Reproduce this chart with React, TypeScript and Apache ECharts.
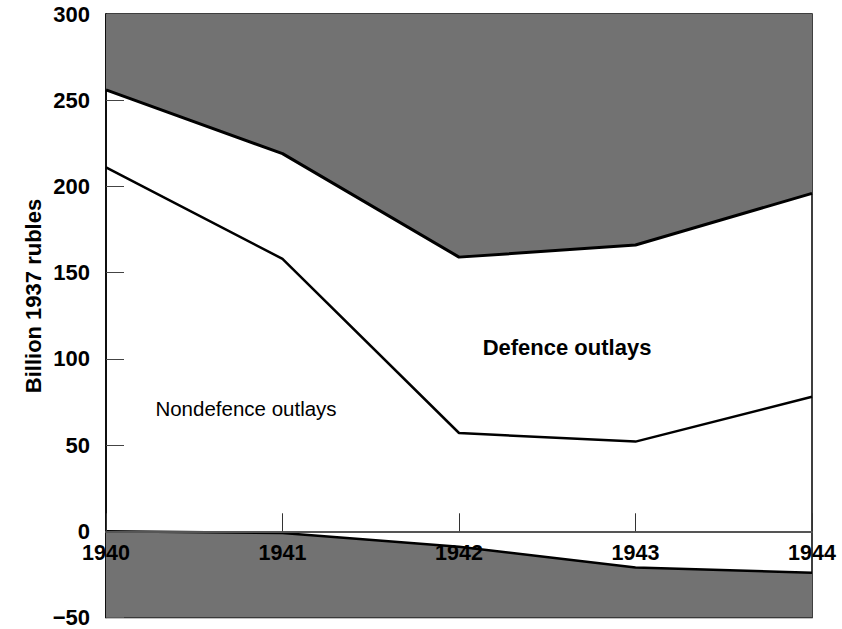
import React, { useEffect, useRef } from "react";
import * as echarts from "echarts";

const years = [1940, 1941, 1942, 1943, 1944];
const totalOutlays = [256, 219, 159, 166, 196];
const nondefenceOutlays = [211, 158, 57, 52, 78];
const negativeItems = [0, -1, -9, -21, -24];
const yTicks = { min: -50, max: 300, interval: 50 };

const FONT = "'Liberation Sans', Arial, sans-serif";
const SHADE = "#727272";

const GRID_TOP = 14;
const GRID_BOTTOM = 11.5;
const CHART_H = 629;

export default function App() {
  const ref = useRef<HTMLDivElement>(null);
  useEffect(() => {
    if (!ref.current) return;
    const chart = echarts.init(ref.current, null, { renderer: "svg" });
    const pairs = (vals: number[]) => years.map((y, i) => [y, vals[i]]);
    const plotH = CHART_H - GRID_TOP - GRID_BOTTOM;
    const zeroFromBottom = (plotH * (0 - yTicks.min)) / (yTicks.max - yTicks.min);
    chart.setOption({
      animation: false,
      backgroundColor: "#ffffff",
      grid: {
        left: 106,
        right: 30,
        top: GRID_TOP,
        bottom: GRID_BOTTOM,
        outerBoundsMode: "none",
        containLabel: false,
        show: true,
        borderColor: "#000",
        borderWidth: 1.5,
        backgroundColor: "transparent",
      },
      xAxis: {
        type: "value",
        position: "bottom",
        offset: -zeroFromBottom,
        min: years[0],
        max: years[years.length - 1],
        interval: 1,
        axisLine: { onZero: false, lineStyle: { color: "#555", width: 2 } },
        axisTick: { inside: true, length: 18, lineStyle: { color: "#333", width: 1 } },
        axisLabel: {
          formatter: (v: number) => String(v),
          color: "#000",
          fontFamily: FONT,
          fontWeight: "bold",
          fontSize: 21.5,
          lineHeight: 18,
          margin: 13,
          showMinLabel: true,
          showMaxLabel: true,
        },
        splitLine: { show: false },
        z: 5,
      },
      yAxis: {
        type: "value",
        min: yTicks.min,
        max: yTicks.max,
        interval: yTicks.interval,
        axisLine: { show: true, onZero: false, lineStyle: { color: "#000", width: 1.5 } },
        axisTick: { inside: true, length: 18, lineStyle: { color: "#444", width: 1 } },
        axisLabel: {
          formatter: (v: number) => String(v).replace("-", "\u2212"),
          color: "#000",
          fontFamily: FONT,
          fontWeight: "bold",
          fontSize: 22,
          lineHeight: 16,
          margin: 16,
          showMinLabel: true,
          showMaxLabel: true,
        },
        splitLine: { show: false },
      },
      graphic: [
        {
          type: "text",
          x: 33,
          y: 296,
          rotation: Math.PI / 2,
          style: {
            text: "Billion 1937 rubles",
            fill: "#000",
            font: `bold 22px ${FONT}`,
            align: "center",
            verticalAlign: "middle",
          },
        },
        {
          type: "text",
          x: 567,
          y: 347,
          style: {
            text: "Defence outlays",
            fill: "#000",
            font: `bold 22px ${FONT}`,
            align: "center",
            verticalAlign: "middle",
          },
        },
        {
          type: "text",
          x: 246,
          y: 408,
          style: {
            text: "Nondefence outlays",
            fill: "#000",
            font: `20.5px ${FONT}`,
            align: "center",
            verticalAlign: "middle",
          },
        },
      ],
      series: [
        {
          type: "line",
          data: pairs(totalOutlays),
          symbol: "none",
          lineStyle: { color: "#000", width: 3 },
          areaStyle: { origin: "end", color: SHADE, opacity: 1 },
          z: 3,
        },
        {
          type: "line",
          data: pairs(nondefenceOutlays),
          symbol: "none",
          lineStyle: { color: "#000", width: 2.5 },
          z: 3,
        },
        {
          type: "line",
          data: pairs(negativeItems),
          symbol: "none",
          lineStyle: { color: "#000", width: 2.5 },
          areaStyle: { origin: "start", color: SHADE, opacity: 1 },
          z: 2,
        },
      ],
    });
    return () => chart.dispose();
  }, []);
  return (
    <div
      ref={ref}
      style={{ position: "fixed", left: 0, top: 0, width: 842, height: 629 }}
    />
  );
}
